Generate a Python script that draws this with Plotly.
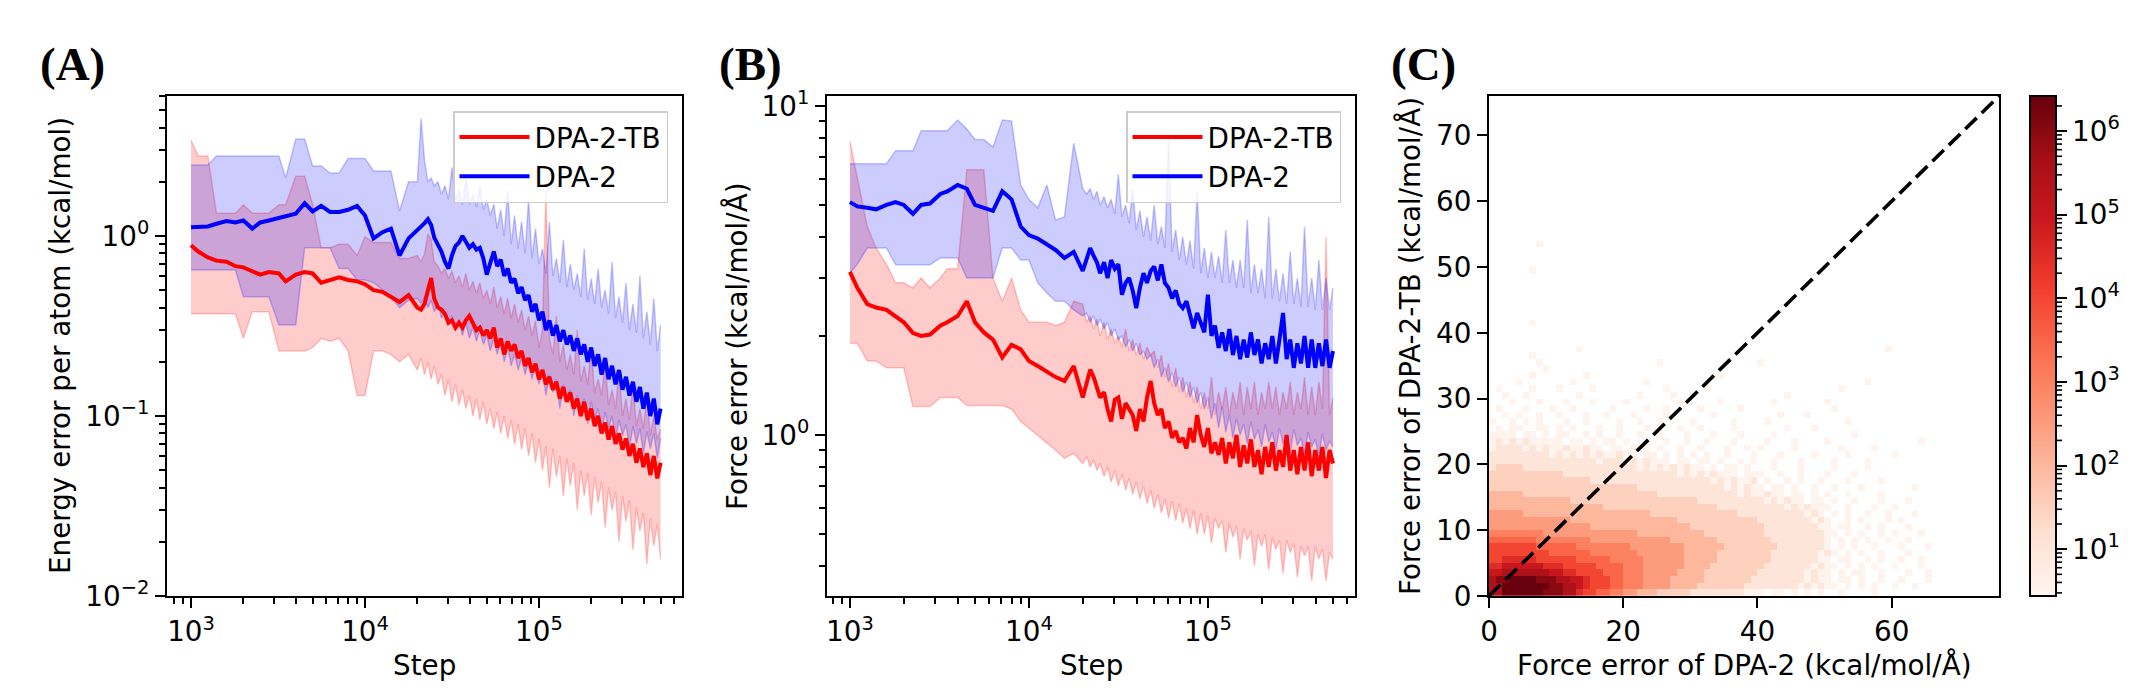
import numpy as np
import plotly.graph_objects as go

W, H = 2134, 694

# ---------------- data ----------------
steps = [1000, 1100, 1250, 1400, 1600, 1800, 2000, 2250, 2500, 2800,
         3200, 3500, 4000, 4500, 5000, 5600, 6300, 7100, 8000, 9000,
         10000, 11200, 12600, 14100, 15800, 17800, 20000, 21000, 22000, 23000,
         24000, 25000, 26300, 27500, 28800, 30200, 31600, 33100, 34700, 36300,
         38000, 39800, 41700, 43700, 45700, 47900, 50100, 52500, 55000, 57500,
         60300, 63100, 66100, 69200, 72400, 75900, 79400, 83200, 87100, 91200,
         95500, 100000, 104700, 109600, 114800, 120200, 125900, 131800, 138000, 144500,
         151400, 158500, 166000, 173800, 182000, 190500, 199500, 208900, 218800, 229100,
         239900, 251200, 263000, 275400, 288400, 302000, 316200, 331100, 346700, 363100,
         380200, 398100, 416900, 436500, 457100, 478600, 500000]

# Panel A: energy error per atom
a_dpa_mean = [1.12, 1.12, 1.13, 1.17, 1.21, 1.19, 1.22, 1.10, 1.19, 1.22,
              1.26, 1.30, 1.33, 1.52, 1.37, 1.47, 1.36, 1.36, 1.40, 1.47,
              1.30, 0.97, 1.05, 1.10, 0.78, 0.97, 1.08, 1.12, 1.18, 1.24,
              1.15, 0.98, 0.90, 0.82, 0.72, 0.66, 0.78, 0.88, 0.92, 1.00,
              0.93, 0.86, 0.90, 0.84, 0.86, 0.75, 0.61, 0.70, 0.82, 0.68,
              0.74, 0.60, 0.66, 0.55, 0.58, 0.48, 0.52, 0.44, 0.47, 0.38,
              0.42, 0.34, 0.38, 0.30, 0.34, 0.28, 0.32, 0.26, 0.30, 0.25,
              0.28, 0.23, 0.27, 0.22, 0.25, 0.20, 0.24, 0.19, 0.22, 0.17,
              0.21, 0.16, 0.19, 0.15, 0.18, 0.14, 0.165, 0.13, 0.155, 0.12,
              0.145, 0.11, 0.135, 0.10, 0.125, 0.09, 0.11]
a_dpa_hi = [2.48, 2.48, 2.48, 2.78, 2.78, 2.78, 2.78, 2.78, 2.78, 2.78,
            2.78, 2.10, 3.46, 3.46, 2.45, 2.45, 2.24, 2.24, 2.70, 2.70,
            2.70, 2.30, 2.30, 2.30, 1.38, 2.00, 2.00, 4.50, 2.60, 2.00,
            2.10, 1.90, 2.00, 1.70, 1.90, 1.60, 2.40, 1.60, 1.80, 1.50,
            2.10, 1.50, 1.70, 1.45, 1.90, 1.40, 1.60, 1.30, 1.50, 1.10,
            1.40, 1.00, 1.80, 0.90, 1.30, 0.85, 1.20, 0.80, 1.60, 0.75,
            1.10, 0.70, 0.85, 0.62, 1.20, 0.60, 0.75, 0.55, 0.95, 0.52,
            0.70, 0.50, 0.62, 0.46, 0.85, 0.44, 0.58, 0.42, 0.66, 0.40,
            0.50, 0.37, 0.72, 0.35, 0.46, 0.33, 0.55, 0.30, 0.42, 0.29,
            0.60, 0.27, 0.38, 0.25, 0.45, 0.23, 0.32]
a_dpa_lo = [0.647, 0.647, 0.647, 0.647, 0.647, 0.647, 0.46, 0.46, 0.46, 0.46,
            0.32, 0.32, 0.32, 0.86, 0.86, 0.86, 0.86, 0.66, 0.66, 0.57,
            0.57, 0.55, 0.50, 0.46, 0.40, 0.44, 0.45, 0.42, 0.46, 0.40,
            0.44, 0.38, 0.42, 0.35, 0.38, 0.32, 0.36, 0.30, 0.34, 0.28,
            0.33, 0.27, 0.31, 0.26, 0.30, 0.25, 0.28, 0.23, 0.27, 0.22,
            0.26, 0.20, 0.24, 0.19, 0.22, 0.18, 0.21, 0.17, 0.20, 0.16,
            0.19, 0.15, 0.18, 0.13, 0.17, 0.135, 0.16, 0.11, 0.15, 0.12,
            0.14, 0.10, 0.13, 0.105, 0.125, 0.09, 0.12, 0.095, 0.11, 0.08,
            0.105, 0.085, 0.10, 0.072, 0.095, 0.078, 0.09, 0.066, 0.088, 0.07,
            0.085, 0.062, 0.082, 0.066, 0.08, 0.058, 0.075]
a_tb_mean = [0.89, 0.82, 0.76, 0.73, 0.72, 0.68, 0.67, 0.64, 0.61, 0.63,
             0.62, 0.56, 0.61, 0.63, 0.62, 0.55, 0.57, 0.59, 0.57, 0.56,
             0.54, 0.50, 0.49, 0.46, 0.43, 0.47, 0.40, 0.39, 0.42, 0.50,
             0.585, 0.45, 0.40, 0.39, 0.37, 0.33, 0.34, 0.31, 0.33, 0.31,
             0.34, 0.36, 0.33, 0.30, 0.31, 0.28, 0.30, 0.27, 0.31, 0.24,
             0.27, 0.22, 0.26, 0.23, 0.25, 0.21, 0.23, 0.19, 0.21, 0.175,
             0.195, 0.16, 0.18, 0.15, 0.165, 0.14, 0.155, 0.125, 0.145, 0.12,
             0.135, 0.11, 0.125, 0.10, 0.12, 0.095, 0.11, 0.088, 0.10, 0.08,
             0.092, 0.074, 0.088, 0.07, 0.08, 0.065, 0.075, 0.06, 0.07, 0.055,
             0.066, 0.052, 0.062, 0.047, 0.06, 0.045, 0.055]
a_tb_hi = [3.40, 2.78, 2.78, 1.34, 1.34, 1.34, 1.49, 1.34, 1.34, 1.34,
           1.49, 1.49, 2.15, 2.15, 1.50, 0.86, 0.86, 0.90, 0.90, 0.78,
           0.99, 0.92, 0.92, 0.92, 0.75, 0.75, 0.78, 0.72, 0.80, 1.03,
           0.95, 0.72, 0.68, 0.62, 0.66, 0.58, 0.64, 0.55, 0.60, 0.52,
           0.62, 0.50, 0.56, 0.48, 0.55, 0.45, 0.50, 0.42, 0.52, 0.40,
           0.46, 0.37, 0.45, 0.35, 0.42, 0.33, 0.39, 0.30, 0.36, 0.28,
           0.34, 0.24, 0.30, 1.80, 0.27, 0.22, 0.36, 0.20, 0.25, 0.18,
           0.22, 0.17, 0.30, 0.155, 0.19, 0.15, 0.24, 0.135, 0.16, 0.13,
           0.20, 0.115, 0.14, 0.11, 0.18, 0.10, 0.125, 0.095, 0.15, 0.088,
           0.11, 0.085, 0.13, 0.078, 0.10, 0.074, 0.085]
a_tb_lo = [0.37, 0.37, 0.37, 0.37, 0.37, 0.37, 0.27, 0.38, 0.38, 0.38,
           0.23, 0.23, 0.23, 0.23, 0.24, 0.27, 0.26, 0.27, 0.23, 0.13,
           0.13, 0.23, 0.23, 0.22, 0.20, 0.22, 0.18, 0.21, 0.17, 0.20,
           0.16, 0.19, 0.15, 0.17, 0.13, 0.16, 0.12, 0.15, 0.115, 0.14,
           0.11, 0.13, 0.10, 0.125, 0.095, 0.12, 0.09, 0.11, 0.085, 0.105,
           0.08, 0.10, 0.075, 0.095, 0.07, 0.09, 0.065, 0.085, 0.06, 0.08,
           0.055, 0.075, 0.05, 0.068, 0.040, 0.066, 0.046, 0.060, 0.036, 0.058,
           0.041, 0.055, 0.030, 0.050, 0.036, 0.048, 0.028, 0.046, 0.033, 0.043,
           0.024, 0.040, 0.030, 0.038, 0.020, 0.036, 0.026, 0.034, 0.018, 0.031,
           0.023, 0.029, 0.015, 0.027, 0.019, 0.025, 0.016]

# Panel B: force error
b_dpa_mean = [5.10, 4.95, 4.90, 4.85, 5.00, 5.10, 5.00, 4.70, 5.00, 5.05,
              5.40, 5.50, 5.75, 5.60, 5.00, 4.90, 4.80, 5.50, 5.20, 4.30,
              4.05, 3.95, 3.80, 3.65, 3.45, 3.60, 3.15, 3.40, 3.70, 3.50,
              3.35, 3.10, 3.35, 3.00, 3.40, 3.20, 3.30, 2.67, 2.90, 3.00,
              2.75, 2.43, 2.80, 3.10, 2.90, 3.15, 3.25, 2.95, 3.30, 2.90,
              2.80, 2.60, 2.75, 2.50, 2.43, 2.55, 2.30, 2.11, 2.35, 2.20,
              2.05, 2.67, 2.00, 2.15, 1.84, 2.05, 1.80, 2.10, 1.75, 2.00,
              1.70, 1.95, 1.72, 2.05, 1.75, 1.95, 1.65, 1.90, 1.70, 2.00,
              1.65, 1.95, 2.35, 1.70, 1.95, 1.60, 1.90, 1.65, 2.00, 1.60,
              1.95, 1.60, 1.90, 1.62, 1.95, 1.60, 1.80]
b_dpa_hi = [6.67, 6.67, 6.67, 6.67, 6.67, 7.30, 7.30, 7.30, 8.40, 8.40,
            8.40, 8.40, 9.06, 8.50, 7.90, 7.90, 7.50, 9.06, 9.00, 5.75,
            5.20, 4.90, 5.75, 4.50, 4.60, 7.70, 5.60, 5.40, 5.60, 5.20,
            5.50, 5.00, 5.30, 4.90, 5.20, 4.70, 6.20, 4.60, 5.00, 4.40,
            5.60, 4.20, 4.80, 4.00, 4.60, 3.90, 5.00, 3.80, 4.30, 3.70,
            8.00, 3.60, 4.20, 3.40, 4.00, 3.30, 3.90, 3.20, 5.50, 3.10,
            3.70, 3.00, 3.60, 3.00, 3.50, 2.90, 4.20, 2.90, 3.40, 2.80,
            3.40, 2.80, 4.50, 2.70, 3.30, 2.70, 3.20, 2.60, 4.60, 2.60,
            3.20, 2.55, 3.10, 2.50, 3.60, 2.50, 3.00, 2.45, 4.30, 2.45,
            3.00, 2.40, 3.40, 2.40, 3.00, 2.40, 2.80]
b_dpa_lo = [3.10, 3.30, 3.70, 3.70, 3.70, 3.29, 3.29, 3.29, 3.29, 3.29,
            3.45, 3.45, 3.45, 3.00, 3.00, 3.00, 3.00, 3.70, 3.70, 3.40,
            3.40, 2.90, 2.70, 2.55, 2.55, 2.40, 2.30, 2.35, 2.20, 2.30,
            2.15, 2.25, 2.10, 2.20, 2.00, 2.10, 1.95, 2.00, 1.85, 1.95,
            1.80, 1.90, 1.75, 1.80, 1.70, 1.75, 1.60, 1.70, 1.50, 1.60,
            1.45, 1.55, 1.40, 1.50, 1.35, 1.45, 1.30, 1.40, 1.25, 1.35,
            1.20, 1.30, 1.12, 1.25, 1.05, 1.22, 1.02, 1.15, 0.98, 1.12,
            1.00, 1.08, 0.94, 1.10, 0.97, 1.04, 0.92, 1.08, 0.95, 1.02,
            0.90, 1.05, 0.94, 1.00, 0.88, 1.04, 0.93, 0.98, 0.87, 1.02,
            0.92, 0.97, 0.86, 1.01, 0.90, 0.96, 0.92]
b_tb_mean = [3.13, 2.80, 2.50, 2.44, 2.40, 2.30, 2.20, 2.04, 2.00, 2.02,
             2.15, 2.20, 2.30, 2.55, 2.20, 2.05, 1.95, 1.72, 1.88, 1.82,
             1.68, 1.62, 1.56, 1.50, 1.46, 1.62, 1.30, 1.45, 1.58, 1.50,
             1.40, 1.30, 1.35, 1.20, 1.10, 1.28, 1.30, 1.12, 1.25, 1.20,
             1.15, 1.03, 1.20, 1.10, 1.30, 1.46, 1.25, 1.15, 1.20, 1.05,
             1.10, 0.98, 1.03, 0.95, 0.98, 0.91, 1.05, 0.95, 1.15, 1.00,
             0.92, 1.05, 0.88, 0.95, 0.87, 0.98, 0.82, 0.95, 0.85, 1.00,
             0.80, 0.93, 0.82, 0.97, 0.80, 0.90, 0.76, 0.92, 0.80, 0.95,
             0.78, 0.90, 0.80, 1.00, 0.78, 0.90, 0.76, 0.92, 0.78, 0.95,
             0.75, 0.90, 0.78, 0.92, 0.74, 0.90, 0.82]
b_tb_hi = [7.80, 6.00, 4.30, 3.70, 3.30, 2.90, 2.90, 2.80, 3.00, 2.80,
           3.00, 3.20, 3.20, 6.40, 6.40, 6.40, 3.00, 2.55, 3.00, 2.40,
           2.20, 2.20, 2.20, 2.15, 2.20, 2.55, 2.50, 2.20, 2.30, 2.10,
           2.25, 2.00, 2.20, 1.95, 2.10, 1.90, 2.00, 1.85, 2.10, 1.80,
           1.95, 1.75, 1.90, 1.70, 1.85, 1.75, 1.80, 1.60, 1.75, 1.50,
           1.65, 1.40, 1.60, 1.35, 1.50, 1.30, 1.45, 1.25, 1.40, 1.20,
           1.35, 1.20, 1.50, 1.15, 1.35, 1.20, 1.40, 1.15, 1.35, 1.20,
           1.45, 1.15, 1.40, 1.20, 1.45, 1.15, 1.35, 1.20, 1.45, 1.20,
           1.40, 1.15, 1.35, 1.20, 1.45, 1.15, 1.35, 1.20, 1.50, 1.15,
           1.40, 1.15, 1.45, 1.20, 4.00, 1.15, 1.30]
b_tb_lo = [1.90, 1.90, 1.68, 1.68, 1.60, 1.60, 1.60, 1.22, 1.22, 1.22,
           1.30, 1.30, 1.30, 1.23, 1.23, 1.23, 1.23, 1.23, 1.20, 1.10,
           1.05, 1.00, 0.95, 0.90, 0.85, 0.88, 0.82, 0.86, 0.80, 0.84,
           0.78, 0.82, 0.75, 0.80, 0.72, 0.78, 0.70, 0.76, 0.68, 0.74,
           0.66, 0.72, 0.64, 0.70, 0.62, 0.68, 0.60, 0.66, 0.58, 0.64,
           0.56, 0.63, 0.55, 0.62, 0.54, 0.60, 0.52, 0.59, 0.50, 0.58,
           0.50, 0.57, 0.47, 0.56, 0.52, 0.55, 0.44, 0.54, 0.49, 0.53,
           0.42, 0.52, 0.48, 0.51, 0.40, 0.50, 0.46, 0.50, 0.39, 0.49,
           0.45, 0.48, 0.38, 0.48, 0.44, 0.47, 0.37, 0.46, 0.43, 0.46,
           0.36, 0.46, 0.42, 0.45, 0.36, 0.44, 0.42]

# Panel C: 2-D histogram, 1 kcal/mol/Å bins; row k = y bin k (bottom up),
# char = log10(count) level, '.' = empty bin
hist_levels = {'1': 0.5, '2': 1.0, '3': 1.5, '4': 2.0, '5': 2.5, '6': 3.0, '7': 3.5,
               '8': 4.0, '9': 4.5, 'A': 5.0, 'B': 5.5, 'C': 6.0, 'D': 6.4}
hist_rows = [
    "BBDDDDDDCC" "CBB9887766" "5544433333" "2222222211" "1.11.1.1.1" "..1....1..",
    "BBDDDDDDDC" "CBBA988877" "6665555444" "4333333322" "2222221212" "11.1.1.1.." "1..1",
    "BCCDDDDCCC" "BBAA988877" "6665555444" "4433333332" "2222222121" "1.11.1..1." ".1...1",
    "AABBBBBBBA" "A998888777" "6665555544" "4433333333" "2222222121" "1.1.11..1." "..1..1",
    "99AAAAAA99" "9888887777" "6665555554" "4443333333" "3222222212" "11.1.1.1.." "1...1",
    "8899999888" "8887777766" "6665555554" "4444333333" "3322222221" "1.11..1.1." ".1..1",
    "8888888887" "7777766666" "6655555554" "4444333333" "3322222221" "21.1.1..1." "..1",
    "8888888777" "7776666666" "6555555554" "4444433333" "3332222222" "1.1.1..1.." ".1...1",
    "7777777666" "6666655555" "5555555444" "4444333333" "3322222222" "1.1.1.1..1" "..1",
    "6666666655" "5555555555" "5544444444" "4433333333" "3222222222" "11.1.1..1." "1...1",
    "5555555555" "5555544444" "4444444444" "3333333333" "3222222221" "1.11..1.1." "..1",
    "5555555555" "5544444444" "4444444433" "3333333333" "2222222212" "1..1.1...1" ".1",
    "5555544444" "4444444444" "4444333333" "3333333222" "2222222121" ".1.1..1..1" "...1",
    "4444444444" "4444444333" "3333333333" "3333222222" "2222121211" "1..1...1.." "1",
    "4444444444" "4433333333" "3333333333" "3222222222" "2121211.11" ".1..1...1." "..1",
    "4444433333" "3333333333" "3333322222" "2222222121" "1211.11.1." "1..1....1.",
    "3333333333" "3333333333" "3322222222" "2222212121" "1.11.1..1." ".1...1...." "...1",
    "3333333333" "3333322222" "2222222222" "2221212112" ".1..1.1..1" "...1....1.",
    "3333333333" "3222222222" "2222222212" "1212111.11" "1..1..1..." "1...1.....",
    "2333322222" "2222222222" "2212121212" "11.1.11.1." "..1...1..." ".1....1...",
    "2222222222" "2222221222" "1212111.11" ".11.1..1.1" "..1...1..." ".1....1...",
    "2222222221" "2121212112" "11.11.1.1." "1.1..1...1" "...1....1." "...1......" "1",
    "1222212121" "1211211.11" ".1.1.1..1." ".1...1..1." "1....1...." "..1....1..",
    "1212121111" "1.11.1.11." "1..1..1..1" "..1...1..." ".1...1...." "1........." "....1",
    "1111.11.1." "11..1.1..1" "..1..1...1" "...1...1.." "..1......." "....1",
    ".1.11..11." "1.1...1..1" "...1....1." ".1....1..." "....1...1.",
    "1..1.1.1.." ".1..1....1" "..1..1...." "1.....1..." ".1........" "...1",
    "..1.1..1.." "1...1..1.." ".1....1..." "...1......" "...1...1..",
    ".1...1...1" "..1.....1." "...1..1..." ".1.....1.." ".........." ".1",
    "...1...1.." ".1...1...." "1.......1." "....1....." "..1......." "1",
    "..1..1...." "...1......" "..1....1.." ".........." "....1",
    ".1....1..." "1....1...." "......1..." "..1......." ".........." "..1",
    "....1....." "..1......." "...1......" ".........." ".........." "......1",
    "......1..." "....1....." ".........." "....1",
    "........1.",
    ".......1.." ".........." ".....1...." ".........." "1",
    "......1",
    ".........." "...1......" ".........." ".........." ".........." ".........1",
    "",
    "",
    "",
    "......1",
    "", "", "", "", "", "", "",
    "......1",
    "", "", "",
    ".......1",
]
hist_ncols = 72
cbar_range = [0.44, 6.42]          # log10(count) limits of the colour bar
cbar_ticks = [1, 2, 3, 4, 5, 6]
c_lim = [0, 76]

# ---------------- layout helpers ----------------
FONT = dict(family="DejaVu Sans", size=27.8, color="black")
Y_TOP, Y_BOT = 88, 588
DOM_Y = [1 - Y_BOT / H, 1 - Y_TOP / H]
DOM_A = [159 / W, 674 / W]
DOM_B = [819 / W, 1347 / W]
DOM_C = [1481 / W, 1991 / W]
CB_X0, CB_X1 = 2022, 2048


def sup_label(e):
    s = str(e).replace("-", "\u2212")
    return f"10<sup>{s}</sup>"


def minor_vals(lo, hi):
    vals = []
    for d in range(lo, hi + 1):
        for k in range(2, 10):
            vals.append(k * 10.0 ** d)
    return vals


def log_axis(domain, rng, exps, minors, anchor):
    return dict(type="log", domain=domain, range=rng, anchor=anchor,
                tickmode="array", tickvals=[10.0 ** e for e in exps],
                ticktext=[sup_label(e) for e in exps],
                ticks="outside", ticklen=10, tickwidth=2.2, tickcolor="black",
                showline=True, linecolor="black", linewidth=2.2, mirror=True,
                showgrid=False, zeroline=False, tickfont=FONT,
                minor=dict(tickmode="array", tickvals=minors, ticks="outside",
                           ticklen=5.5, tickwidth=1.6, tickcolor="black", showgrid=False))


RED, BLUE = "#ff0000", "#0000ff"
RED_FILL, BLUE_FILL = "rgba(255,0,0,0.2)", "rgba(0,0,255,0.2)"
RED_EDGE, BLUE_EDGE = "rgba(255,0,0,0.22)", "rgba(0,0,255,0.22)"

fig = go.Figure()


def add_band(xa, ya, hi, lo, edge, fill):
    fig.add_trace(go.Scatter(x=steps, y=hi, xaxis=xa, yaxis=ya, mode="lines",
                             line=dict(color=edge, width=1.5), showlegend=False,
                             hoverinfo="skip"))
    fig.add_trace(go.Scatter(x=steps, y=lo, xaxis=xa, yaxis=ya, mode="lines",
                             line=dict(color=edge, width=1.5), fill="tonexty",
                             fillcolor=fill, showlegend=False, hoverinfo="skip"))


def add_line(xa, ya, vals, color, name, legend):
    fig.add_trace(go.Scatter(x=steps, y=vals, xaxis=xa, yaxis=ya, mode="lines",
                             line=dict(color=color, width=4), name=name,
                             legend=legend, showlegend=True))


# Panel A
add_band("x", "y", a_tb_hi, a_tb_lo, RED_EDGE, RED_FILL)
add_band("x", "y", a_dpa_hi, a_dpa_lo, BLUE_EDGE, BLUE_FILL)
add_line("x", "y", a_tb_mean, RED, "DPA-2-TB", "legend")
add_line("x", "y", a_dpa_mean, BLUE, "DPA-2", "legend")
# Panel B
add_band("x2", "y2", b_tb_hi, b_tb_lo, RED_EDGE, RED_FILL)
add_band("x2", "y2", b_dpa_hi, b_dpa_lo, BLUE_EDGE, BLUE_FILL)
add_line("x2", "y2", b_tb_mean, RED, "DPA-2-TB", "legend2")
add_line("x2", "y2", b_dpa_mean, BLUE, "DPA-2", "legend2")

# Panel C heatmap
z = []
for row in hist_rows:
    row = row.ljust(hist_ncols, ".")[:hist_ncols]
    z.append([hist_levels.get(ch) for ch in row])
xc = [i + 0.5 for i in range(hist_ncols)]
yc = [j + 0.5 for j in range(len(hist_rows))]
reds = [[0.0, "#fff5f0"], [0.125, "#fee0d2"], [0.25, "#fcbba1"], [0.375, "#fc9272"],
        [0.5, "#fb6a4a"], [0.625, "#ef3b2c"], [0.75, "#cb181d"], [0.875, "#a50f15"],
        [1.0, "#67000d"]]
fig.add_trace(go.Heatmap(
    x=xc, y=yc, z=z, xaxis="x3", yaxis="y3", colorscale=reds,
    zmin=cbar_range[0], zmax=cbar_range[1], hoverinfo="skip", showscale=True,
    colorbar=dict(x=CB_X0 / W, xanchor="left", xpad=0, ypad=0,
                  y=sum(DOM_Y) / 2, yanchor="middle",
                  len=(Y_BOT - Y_TOP) / H, lenmode="fraction",
                  thickness=CB_X1 - CB_X0, thicknessmode="pixels",
                  outlinecolor="black", outlinewidth=2,
                  tickmode="array", tickvals=cbar_ticks,
                  ticktext=[sup_label(t) for t in cbar_ticks],
                  ticks="outside", ticklen=10, tickwidth=2.2, tickcolor="black",
                  tickfont=FONT)))
fig.add_trace(go.Scatter(x=c_lim, y=c_lim, xaxis="x3", yaxis="y3", mode="lines",
                         line=dict(color="black", width=3.6, dash="16px,7px"),
                         showlegend=False, hoverinfo="skip"))

# colour-bar minor ticks
shapes = []
for d in range(0, 7):
    for k in range(2, 10):
        v = d + np.log10(k)
        if cbar_range[0] + 0.02 <= v <= cbar_range[1] - 0.02:
            ypx = Y_BOT - (v - cbar_range[0]) / (cbar_range[1] - cbar_range[0]) * (Y_BOT - Y_TOP)
            shapes.append(dict(type="line", xref="paper", yref="paper",
                               x0=CB_X1 / W, x1=(CB_X1 + 6) / W,
                               y0=1 - ypx / H, y1=1 - ypx / H,
                               line=dict(color="black", width=1.6)))

legend_common = dict(xanchor="right", yanchor="top", bgcolor="rgba(255,255,255,0.8)",
                     bordercolor="#cccccc", borderwidth=1.5, font=FONT,
                     itemwidth=70, tracegroupgap=0, traceorder="normal")

ann = []


def txt(x, y, s, angle=0, font=FONT):
    ann.append(dict(x=x / W, y=1 - y / H, xref="paper", yref="paper", text=s,
                    showarrow=False, textangle=angle, font=font,
                    xanchor="center", yanchor="middle"))


txt(416, 657, "Step")
txt(1083, 657, "Step")
txt(1736, 657, "Force error of DPA-2 (kcal/mol/Å)")
txt(52, 338, "Energy error per atom (kcal/mol)", -90)
txt(729, 338, "Force error (kcal/mol/Å)", -90)
txt(1402, 338, "Force error of DPA-2-TB (kcal/mol/Å)", -90)
PFONT = dict(family="Liberation Serif", size=47, color="black")
txt(64, 56, "<b>(A)</b>", 0, PFONT)
txt(742, 56, "<b>(B)</b>", 0, PFONT)
txt(1415, 56, "<b>(C)</b>", 0, PFONT)

fig.update_layout(
    width=W, height=H, margin=dict(l=0, r=0, t=0, b=0, autoexpand=False),
    paper_bgcolor="white", plot_bgcolor="white", font=FONT,
    xaxis=log_axis(DOM_A, [2.862, 5.822], [3, 4, 5], minor_vals(2, 5), "y"),
    yaxis=log_axis(DOM_Y, [-2, 0.778], [-2, -1, 0], minor_vals(-2, 0), "x"),
    xaxis2=log_axis(DOM_B, [2.872, 5.822], [3, 4, 5], minor_vals(2, 5), "y2"),
    yaxis2=log_axis(DOM_Y, [-0.489, 1.030], [0, 1], minor_vals(-1, 1), "x2"),
    xaxis3=dict(domain=DOM_C, range=c_lim, anchor="y3", tickmode="array",
                tickvals=[0, 20, 40, 60], ticks="outside", ticklen=10, tickwidth=2.2,
                tickcolor="black", showline=True, linecolor="black", linewidth=2.2,
                mirror=True, showgrid=False, zeroline=False, tickfont=FONT),
    yaxis3=dict(domain=DOM_Y, range=c_lim, anchor="x3", tickmode="array",
                tickvals=[0, 10, 20, 30, 40, 50, 60, 70], ticks="outside", ticklen=10,
                tickwidth=2.2, tickcolor="black", showline=True, linecolor="black",
                linewidth=2.2, mirror=True, showgrid=False, zeroline=False, tickfont=FONT),
    legend=dict(x=660 / W, y=1 - 103 / H, **legend_common),
    legend2=dict(x=1333 / W, y=1 - 103 / H, **legend_common),
    annotations=ann, shapes=shapes,
)

fig.write_html("out.html")
